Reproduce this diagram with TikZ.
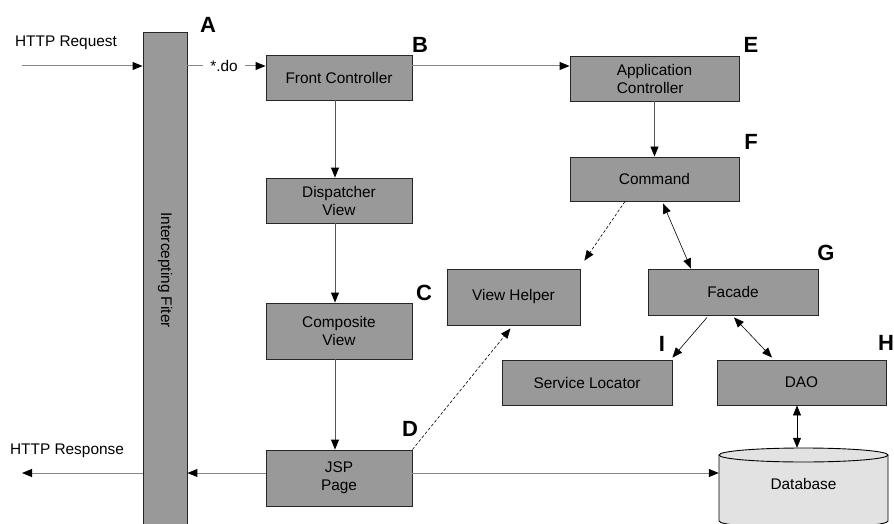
\documentclass[tikz,border=0pt]{standalone}
\usepackage{fontspec}
\setmainfont{Liberation Sans}
\usetikzlibrary{arrows.meta}
\definecolor{boxgray}{RGB}{153,153,153}
\definecolor{dbgray}{RGB}{226,226,226}
\definecolor{wiregray}{RGB}{135,135,135}
\definecolor{stemgray}{RGB}{85,85,85}

\begin{document}
\begin{tikzpicture}[x=1pt,y=-1pt,
    >={Triangle[length=10pt,width=8pt,color=black]},
    font=\fontsize{15.4}{18}\selectfont,
    box/.style={draw=black!85,line width=0.9pt,fill=boxgray,inner sep=0pt,align=center},
    letter/.style={font=\fontsize{22}{22}\selectfont\bfseries},
    wire/.style={draw=wiregray,line width=1pt},
    stem/.style={draw=stemgray,line width=0.9pt},
    link/.style={black,line width=0.6pt},
    hint/.style={black,line width=0.6pt,dash pattern=on 3pt off 2pt}]
    \useasboundingbox (0,0) rectangle (894,524);
    % filter bar and boxes
    \node[box,minimum width=44,minimum height=500] (filter) at (165,282) {};
    \node[rotate=-90] (filtertext) at (165,270) {Intercepting Fiter};
    \node[box,minimum width=146,minimum height=45] (front) at (339,77.5) {Front Controller};
    \node[box,minimum width=146,minimum height=45] (dispatch) at (339,200.5) {Dispatcher\\View};
    \node[box,minimum width=146,minimum height=56] (composite) at (339,331) {Composite\\View};
    \node[box,minimum width=146,minimum height=56] (jsp) at (339,478) {JSP\\Page};
    \node[box,minimum width=169,minimum height=45,align=left] (appctrl) at (654.5,78.5) {Application\\Controller};
    \node[box,minimum width=169,minimum height=44] (command) at (654.5,179) {Command};
    \node[box,minimum width=133,minimum height=56] (helper) at (513.5,297) {View Helper};
    \node[box,minimum width=170,minimum height=46] (facade) at (733,292) {Facade};
    \node[box,minimum width=170,minimum height=45] (locator) at (587,382.5) {Service Locator};
    \node[box,minimum width=169,minimum height=45] (dao) at (801.5,382.5) {DAO};
    % database
    \draw[line width=0.9pt,fill=dbgray] (719,455) -- (719,521)
        arc[start angle=180,end angle=0,x radius=84.5,y radius=7] -- (888,455);
    \draw[line width=0.9pt,fill=dbgray] (803.5,455) ellipse[x radius=84.5,y radius=7];
    \node[inner sep=0pt,minimum width=169,minimum height=72] (database) at (803.5,484) {Database};
    % letters
    \foreach \ltr/\px/\py in {A/208/25, B/420/45, E/751/45, F/751/142, G/826/253,
                              C/424/293, D/410/429, I/662/344, H/886/343}
        \node[letter] (tag\ltr) at (\px,\py) {\ltr};
    % outside texts
    \node (request) at (66,43) {HTTP Request};
    \node (response) at (67,451) {HTTP Response};
    \coordinate (reqin) at (22,66);
    \coordinate (respout) at (22,473);
    \node[inner xsep=7pt] (dolabel) at (224,66) {*.do};
    % connectors
    \draw[wire,->] (reqin) -- (reqin -| filter.west);
    \draw[wire] (dolabel -| filter.east) -- (dolabel.west);
    \draw[wire,->] (dolabel.east) -- (dolabel -| front.west);
    \draw[wire,->] (dolabel -| front.east) -- (dolabel -| appctrl.west);
    \draw[stem,->] ([xshift=-4pt]front.south) -- ([xshift=-4pt]dispatch.north);
    \draw[stem,->] ([xshift=-4pt]dispatch.south) -- ([xshift=-4pt]composite.north);
    \draw[stem,->] ([xshift=-4pt]composite.south) -- ([xshift=-4pt]jsp.north);
    \draw[stem,->] (appctrl.south) -- (command.north);
    \draw[hint,->] ([xshift=-29.5pt]command.south) -- ([xshift=4pt,yshift=8pt]helper.north east);
    \draw[hint,->] (jsp.north east) -- ([xshift=-3pt,yshift=-3pt]helper.south);
    \draw[link,<->] ([xshift=8.5pt,yshift=-2pt]command.south) -- ([xshift=-42pt]facade.north);
    \draw[link,->] ([xshift=-26pt,yshift=-2pt]facade.south) -- ([yshift=2pt]locator.north east);
    \draw[link,<->] ([xshift=1pt,yshift=-2pt]facade.south) -- ([xshift=-29.5pt,yshift=2pt]dao.north);
    \draw[link,<->] ([xshift=-4.5pt]dao.south) -- ([xshift=-6.5pt]database.north);
    \draw[wire,->] ([yshift=5pt]jsp.east) -- ([yshift=5pt]jsp.east -| database.west);
    \draw[wire,->] ([yshift=5pt]jsp.west) -- ([yshift=5pt]jsp.west -| filter.east);
    \draw[wire,->] (respout -| filter.west) -- (respout);
\end{tikzpicture}
\end{document}
